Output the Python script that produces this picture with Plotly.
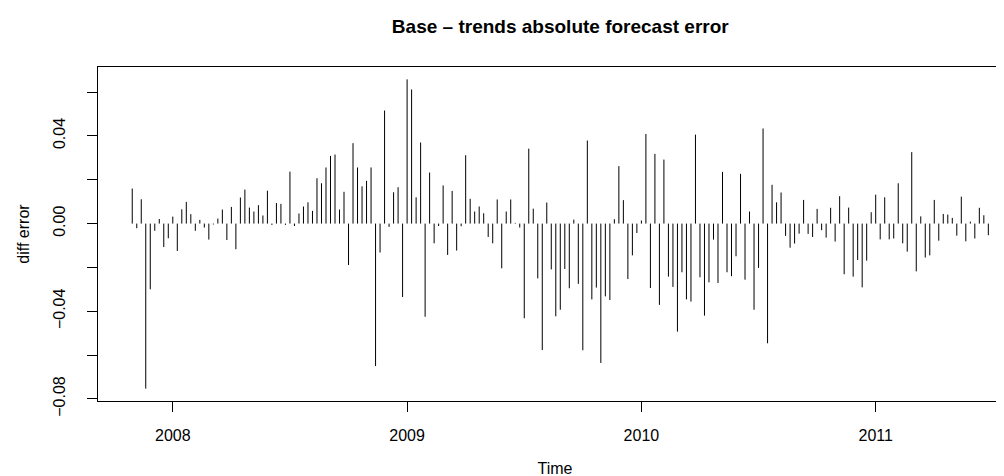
import plotly.graph_objects as go

# weekly series (frequency 52) starting at 2007, week 44
start_year = 2007
start_period = 44
frequency = 52

err_values = [
    0.0160, -0.0021, 0.0111, -0.0753, -0.0300, -0.0033, 0.0021, -0.0107, -0.0067, 0.0032,
    -0.0125, 0.0065, 0.0099, 0.0043, -0.0033, 0.0017, -0.0018, -0.0073, -0.0004, 0.0023,
    0.0064, -0.0075, 0.0076, -0.0117, 0.0119, 0.0155, 0.0073, 0.0055, 0.0084, 0.0037,
    0.0150, -0.0006, 0.0094, 0.0090, -0.0006, 0.0237, -0.0011, 0.0046, 0.0078, 0.0097,
    0.0058, 0.0207, 0.0184, 0.0256, 0.0309, 0.0315, 0.0064, 0.0145, -0.0189, 0.0367,
    0.0256, 0.0170, 0.0195, 0.0256, -0.0650, -0.0132, 0.0516, -0.0015, 0.0143, 0.0166,
    -0.0335, 0.0658, 0.0612, 0.0120, 0.0370, -0.0425, 0.0233, -0.0090, -0.0011, 0.0174,
    -0.0143, 0.0149, -0.0123, -0.0012, 0.0312, 0.0113, 0.0055, 0.0078, 0.0047, -0.0061,
    -0.0090, 0.0110, -0.0204, 0.0055, 0.0110, 0.0003, -0.0018, -0.0432, 0.0342, 0.0068,
    -0.0250, -0.0577, 0.0096, -0.0209, -0.0423, -0.0393, -0.0207, -0.0295, 0.0018, -0.0275,
    -0.0578, 0.0379, -0.0346, -0.0292, -0.0636, -0.0332, -0.0349, 0.0020, 0.0262, 0.0107,
    -0.0253, -0.0145, -0.0043, 0.0014, 0.0409, -0.0294, 0.0318, -0.0371, 0.0292, -0.0242,
    -0.0289, -0.0493, -0.0222, -0.0346, -0.0356, 0.0406, -0.0245, -0.0420, -0.0268, -0.0073,
    -0.0271, 0.0236, -0.0222, -0.0240, -0.0149, 0.0227, -0.0256, 0.0055, -0.0393, -0.0202,
    0.0434, -0.0546, 0.0177, 0.0097, 0.0142, -0.0056, -0.0110, -0.0091, -0.0046, 0.0108,
    -0.0047, -0.0061, 0.0067, -0.0030, -0.0064, 0.0072, -0.0082, 0.0125, -0.0231, 0.0073,
    -0.0242, -0.0166, -0.0291, -0.0169, 0.0052, 0.0132, -0.0072, 0.0120, -0.0072, -0.0068,
    0.0184, -0.0090, -0.0128, 0.0326, -0.0218, 0.0033, -0.0155, -0.0145, 0.0108, -0.0078,
    0.0044, 0.0041, 0.0026, -0.0055, 0.0123, -0.0081, 0.0009, -0.0068, 0.0072, 0.0038,
    -0.0053,
]

x_tick_vals = [2008, 2009, 2010, 2011]
x_tick_text = ["2008", "2009", "2010", "2011"]
y_tick_vals = [-0.08, -0.04, 0.0, 0.04]
y_tick_text = ["\u22120.08", "\u22120.04", "0.00", "0.04"]
y_minor_vals = [-0.06, -0.02, 0.02, 0.06]

times = [start_year + (start_period - 1 + i) / frequency for i in range(len(err_values))]

# R-style ranges (4% extension)
t0, t1 = times[0], times[-1]
x_lo = t0 - 0.04 * (t1 - t0)
vmin, vmax = min(err_values), max(err_values)
y_lo = vmin - 0.04 * (vmax - vmin)
y_hi = vmax + 0.04 * (vmax - vmin)

W, H = 1004, 476
ml, mr, mt, mb = 90, 0, 59, 83
px_per_year = 234.3
x_hi = x_lo + (W - ml - mr) / px_per_year
full_plot_w = (t1 - t0) * 1.08 * px_per_year  # R plot region extends past the right edge

# type="h" style spikes
xs, ys = [], []
for t, v in zip(times, err_values):
    xs += [t, t, None]
    ys += [0, v, None]

fig = go.Figure()
fig.add_trace(go.Scatter(x=xs, y=ys, mode="lines",
                         line=dict(color="black", width=1),
                         hoverinfo="skip", showlegend=False))

font_family = "Liberation Sans, Arial, Helvetica, sans-serif"

fig.update_layout(
    width=W, height=H,
    margin=dict(l=ml, r=mr, t=mt, b=mb, pad=0),
    paper_bgcolor="white", plot_bgcolor="white",
    font=dict(family=font_family, size=16, color="black"),
    title=dict(text="<b>Base \u2013 trends absolute forecast error</b>",
               x=(ml + full_plot_w / 2) / W, xanchor="center",
               y=1 - 18 / H, yanchor="middle",
               font=dict(size=19, family=font_family, color="black")),
    xaxis=dict(range=[x_lo, x_hi], showgrid=False, zeroline=False,
               showline=True, linecolor="black", linewidth=1, mirror=True,
               ticks="outside", ticklen=10, tickcolor="black", tickwidth=1,
               tickvals=x_tick_vals, ticktext=x_tick_text,
               ticklabelstandoff=10,
               title=dict(text="Time", standoff=19, font=dict(size=16))),
    yaxis=dict(range=[y_lo, y_hi], showgrid=False, zeroline=False,
               showline=True, linecolor="black", linewidth=1, mirror=False,
               ticks="outside", ticklen=10, tickcolor="black", tickwidth=1,
               tickvals=y_tick_vals, ticktext=y_tick_text, tickangle=-90,
               ticklabelstandoff=16,
               minor=dict(tickvals=y_minor_vals, ticks="outside",
                          ticklen=10, tickcolor="black", tickwidth=1, showgrid=False),
               title=dict(text="diff error", standoff=16, font=dict(size=16))),
)

fig.write_html("out.html")
